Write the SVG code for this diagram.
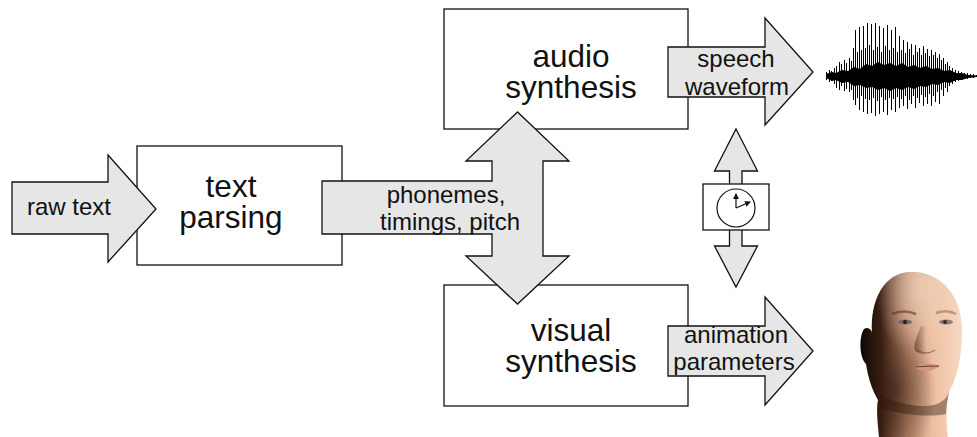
<svg xmlns="http://www.w3.org/2000/svg" width="977" height="437" viewBox="0 0 977 437">
  <style>
    .box { fill: #ffffff; stroke: #111; stroke-width: 1.3; }
    .flow { fill: #e6e6e6; stroke: #111; stroke-width: 1.3; stroke-linejoin: miter; }
    .big { font-family: "Liberation Sans", Arial, sans-serif; font-size: 31.5px; fill: #111; text-anchor: middle; }
    .lbl { font-family: "Liberation Sans", Arial, sans-serif; font-size: 24px; fill: #111; text-anchor: middle; }
    .hand { stroke: #111; stroke-width: 1.2; fill: none; }
  </style>
  <defs>
    <marker id="handTip" viewBox="0 0 6 6" refX="5" refY="3" markerWidth="5" markerHeight="5" orient="auto">
      <path d="M0,0 L6,3 L0,6 Z" fill="#111"/>
    </marker>
    <linearGradient id="skin" x1="0" y1="0" x2="1" y2="0">
      <stop offset="0" stop-color="#0d0603"/>
      <stop offset="0.2" stop-color="#3a1f12"/>
      <stop offset="0.45" stop-color="#b07e62"/>
      <stop offset="0.7" stop-color="#ecbd9e"/>
      <stop offset="1" stop-color="#f8d9c3"/>
    </linearGradient>
    <radialGradient id="crown" cx="0.6" cy="0.1" r="0.45">
      <stop offset="0" stop-color="#f0d3bd" stop-opacity="0.8"/>
      <stop offset="1" stop-color="#f0d3bd" stop-opacity="0"/>
    </radialGradient>
    <radialGradient id="jawShade" cx="0.35" cy="0.72" r="0.4">
      <stop offset="0" stop-color="#2a140a" stop-opacity="0.55"/>
      <stop offset="1" stop-color="#2a140a" stop-opacity="0"/>
    </radialGradient>
    <linearGradient id="noseShade" x1="0" y1="0" x2="1" y2="0">
      <stop offset="0" stop-color="#4a2616" stop-opacity="0.55"/>
      <stop offset="1" stop-color="#4a2616" stop-opacity="0"/>
    </linearGradient>
    <path id="headShape" d="M910,272 C940,271 962,295 962,330 C962,355 958,375 950,390 C946,398 946,420 948,437 L879,437 C878,425 876,410 878,400 C872,390 868,377 866,364 C859,357 859,336 864,329 C868,326 872,330 872,333 C870,300 884,273 910,272 Z"/>
  </defs>

  <!-- processing blocks -->
  <g id="text-parsing">
    <rect class="box" x="137" y="146" width="205" height="119"/>
    <text class="big" x="231" y="197">text</text>
    <text class="big" x="231" y="228">parsing</text>
  </g>
  <g id="audio-synthesis">
    <rect class="box" x="444" y="9" width="244" height="120"/>
    <text class="big" x="571" y="67">audio</text>
    <text class="big" x="571" y="98">synthesis</text>
  </g>
  <g id="visual-synthesis">
    <rect class="box" x="444" y="285" width="244" height="121"/>
    <text class="big" x="571" y="341">visual</text>
    <text class="big" x="571" y="372">synthesis</text>
  </g>

  <!-- block arrows -->
  <g id="connectors">
    <g id="raw-text">
      <polygon class="flow" points="12,182 108,182 108,155 156,209 108,262 108,234 12,234"/>
      <text class="lbl" x="69" y="215">raw text</text>
    </g>
    <g id="phonemes">
      <path class="flow" d="M322,181 H492 V161 H466 L517.5,112 L569,161 H543 V256 H569 L517.5,304 L466,256 H492 V234 H322 Z"/>
      <text class="lbl" x="446" y="203">phonemes,</text>
      <text class="lbl" x="450" y="230">timings, pitch</text>
    </g>
    <g id="speech-waveform">
      <polygon class="flow" points="668,47 765,47 765,18 813,72 765,125 765,97 668,97"/>
      <text class="lbl" x="736" y="67">speech</text>
      <text class="lbl" x="737" y="95">waveform</text>
    </g>
    <g id="animation-parameters">
      <polygon class="flow" points="668,326 765,326 765,297 813,351 765,405 765,376 668,376"/>
      <text class="lbl" x="736" y="343">animation</text>
      <text class="lbl" x="734" y="370">parameters</text>
    </g>
    <g id="sync">
      <polygon class="flow" points="736,129 757.5,171 742,171 742,186 729.5,186 729.5,171 714.5,171"/>
      <polygon class="flow" points="729.5,229 742,229 742,246 757.5,246 736,287 714.5,246 729.5,246"/>
    </g>
  </g>

  <!-- clock between the two synthesis streams -->
  <g id="clock">
    <rect class="box" x="703" y="184" width="66" height="46"/>
    <circle cx="736" cy="208" r="19" fill="#fff" stroke="#111" stroke-width="1.2"/>
    <line class="hand" x1="736" y1="208" x2="736" y2="194" marker-end="url(#handTip)"/>
    <line class="hand" x1="736" y1="208" x2="750" y2="202" marker-end="url(#handTip)"/>
  </g>

  <!-- speech waveform -->
  <g id="waveform">
    <path fill="#000" d="M826,74 L832,72 L836,73 L842,70 L848,71 L854,67 L860,69 L866,64 L872,66 L878,62 L884,65 L890,63 L896,66 L902,63 L908,67 L914,65 L920,68 L926,66 L932,69 L938,68 L944,71 L950,70 L956,73 L962,73 L968,75 L977,75.5
      L977,77 L968,78 L962,80 L956,80 L950,83 L944,82 L938,85 L932,84 L926,87 L920,86 L914,89 L908,87 L902,90 L896,88 L890,91 L884,88 L878,90 L872,87 L866,88 L860,85 L854,86 L848,82 L842,83 L836,80 L832,81 L826,78 Z"/>
    <path stroke="#000" stroke-width="1" fill="none" shape-rendering="crispEdges" d="
      M826,72V80 M829,70V82 M831,71V81 M834,68V84 M836,66V88 M839,62V90 M841,64V86 M844,60V91 M846,63V89 M849,58V92 M851,61V90
      M853,48V100 M855,30V105 M857,52V98 M859,27V110 M861,50V96 M863,26V112 M865,48V99 M867,23V114 M869,45V100 M871,24V113
      M873,50V98 M875,23V116 M877,47V101 M879,26V114 M881,52V97 M883,28V112 M885,46V100 M887,25V115 M889,50V98 M891,30V110
      M893,48V99 M895,27V112 M897,52V97 M899,36V108 M901,50V99 M903,40V106 M905,53V96 M907,42V109 M909,49V100 M911,44V104
      M913,55V96 M915,45V108 M917,52V98 M919,48V103 M921,55V95 M923,46V106 M925,53V97 M927,49V104 M929,56V94 M931,50V106
      M933,55V96 M935,52V102 M937,58V92 M939,54V104 M941,60V90 M943,58V96 M945,64V88 M947,62V92 M949,66V86 M952,68V84
      M955,70V82 M958,71V81 M961,72V80 M964,73V79 M967,73V79 M970,74V78 M973,74V78 M976,75V77"/>
  </g>

  <!-- rendered head -->
  <g id="head">
    <use href="#headShape" fill="url(#skin)"/>
    <use href="#headShape" fill="url(#crown)"/>
    <use href="#headShape" fill="url(#jawShade)"/>
    <!-- under-chin shadow -->
    <path d="M880,395 C898,404 918,408 934,405 C942,403 947,398 949,392 C947,402 946,410 946,414 C925,418 900,414 880,408 Z" fill="#2a140a" opacity="0.4"/>
    <!-- brows and eyes -->
    <path d="M892,314 Q904,309 916,314" stroke="#5a3322" stroke-width="2.5" fill="none" opacity="0.6"/>
    <path d="M936,313 Q947,309 956,314" stroke="#8a5a44" stroke-width="2.5" fill="none" opacity="0.5"/>
    <ellipse cx="905" cy="322" rx="7" ry="2.6" fill="#7a6a66"/>
    <circle cx="905" cy="322" r="2" fill="#2a1a16"/>
    <ellipse cx="946" cy="322" rx="7" ry="2.6" fill="#8d7d78"/>
    <circle cx="945" cy="322" r="2" fill="#3a2a26"/>
    <!-- nose -->
    <path d="M921,326 C917,336 913,345 915,351 C919,354 923,355 926,354 C925,344 925,334 925,326 Z" fill="url(#noseShade)"/>
    <path d="M917,350 Q926,356 935,350" stroke="#5a3322" stroke-width="1.3" fill="none" opacity="0.5"/>
    <!-- mouth -->
    <path d="M914,367 Q926,361 940,366 Q928,375 914,367 Z" fill="#d99289"/>
    <path d="M915,367 Q927,366 939,366" stroke="#6a3b30" stroke-width="1.2" fill="none"/>
  </g>
</svg>
